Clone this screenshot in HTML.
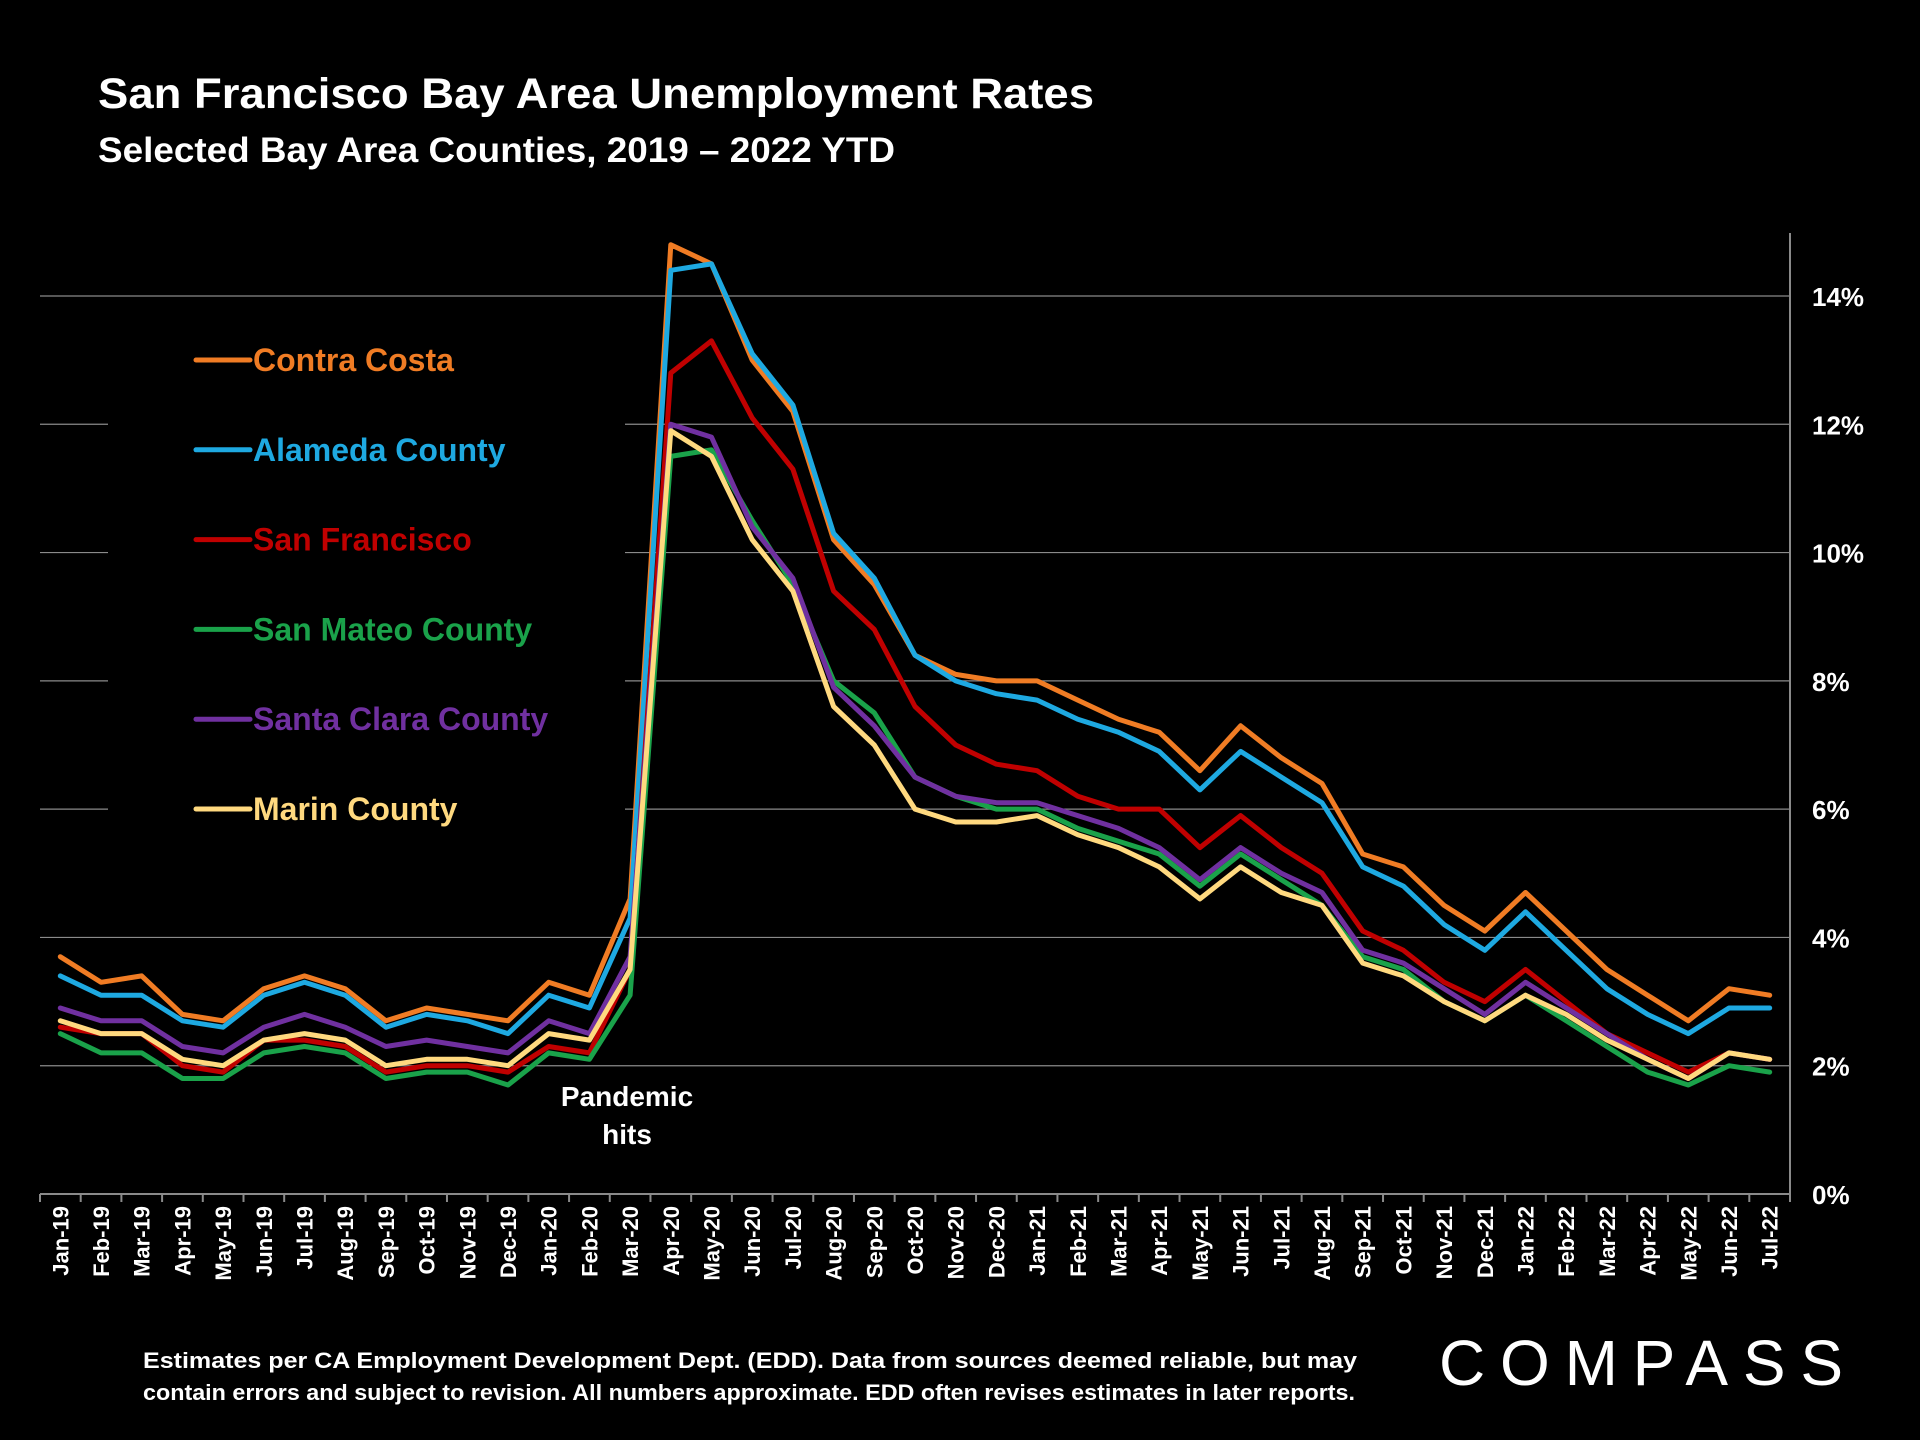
<!DOCTYPE html>
<html><head><meta charset="utf-8"><style>
html,body{margin:0;padding:0;background:#000;}
svg{display:block;font-family:"Liberation Sans",sans-serif;}
</style></head><body>
<svg id="chart" width="1920" height="1440" viewBox="0 0 1920 1440" xmlns="http://www.w3.org/2000/svg">
<rect width="1920" height="1440" fill="#000"/>
<text x="98" y="108" fill="#fff" font-size="43" font-weight="bold" textLength="996" lengthAdjust="spacingAndGlyphs">San Francisco Bay Area Unemployment Rates</text>
<text x="98" y="162" fill="#fff" font-size="35" font-weight="bold" textLength="797" lengthAdjust="spacingAndGlyphs">Selected Bay Area Counties, 2019 – 2022 YTD</text>
<g id="grid"></g>
<rect x="108" y="320" width="517" height="530" fill="#000"/>
<g id="axes"></g>
<g id="series"></g>
<g id="legend"></g>
<text x="627" y="1106" fill="#fff" font-size="28" font-weight="bold" text-anchor="middle"><tspan x="627">Pandemic</tspan><tspan x="627" dy="38">hits</tspan></text>
<text x="143" y="1368" fill="#fff" font-size="22" font-weight="bold" textLength="1214" lengthAdjust="spacingAndGlyphs">Estimates per CA Employment Development Dept. (EDD). Data from sources deemed reliable, but may</text>
<text x="143" y="1400" fill="#fff" font-size="22" font-weight="bold" textLength="1212" lengthAdjust="spacingAndGlyphs">contain errors and subject to revision. All numbers approximate.  EDD often revises estimates in later reports.</text>
<text x="1439" y="1385" fill="#fff" font-size="64" textLength="404" lengthAdjust="spacing">COMPASS</text>
</svg>
<script>
const months=["Jan-19","Feb-19","Mar-19","Apr-19","May-19","Jun-19","Jul-19","Aug-19","Sep-19","Oct-19","Nov-19","Dec-19","Jan-20","Feb-20","Mar-20","Apr-20","May-20","Jun-20","Jul-20","Aug-20","Sep-20","Oct-20","Nov-20","Dec-20","Jan-21","Feb-21","Mar-21","Apr-21","May-21","Jun-21","Jul-21","Aug-21","Sep-21","Oct-21","Nov-21","Dec-21","Jan-22","Feb-22","Mar-22","Apr-22","May-22","Jun-22","Jul-22"];
const yTicks=[0,2,4,6,8,10,12,14];
const yTickLabels=["0%","2%","4%","6%","8%","10%","12%","14%"];
const seriesNames=["Contra Costa","Alameda County","San Francisco","San Mateo County","Santa Clara County","Marin County"];
const seriesColors=["#f07c24","#1ea9e1","#c00000","#1aa24a","#7030a0","#ffd97f"];
const contraCosta=[3.7,3.3,3.4,2.8,2.7,3.2,3.4,3.2,2.7,2.9,2.8,2.7,3.3,3.1,4.6,14.8,14.5,13.0,12.2,10.2,9.5,8.4,8.1,8.0,8.0,7.7,7.4,7.2,6.6,7.3,6.8,6.4,5.3,5.1,4.5,4.1,4.7,4.1,3.5,3.1,2.7,3.2,3.1];
const alameda=[3.4,3.1,3.1,2.7,2.6,3.1,3.3,3.1,2.6,2.8,2.7,2.5,3.1,2.9,4.3,14.4,14.5,13.1,12.3,10.3,9.6,8.4,8.0,7.8,7.7,7.4,7.2,6.9,6.3,6.9,6.5,6.1,5.1,4.8,4.2,3.8,4.4,3.8,3.2,2.8,2.5,2.9,2.9];
const sanFrancisco=[2.6,2.5,2.5,2.0,1.9,2.4,2.4,2.3,1.9,2.0,2.0,1.9,2.3,2.2,3.5,12.8,13.3,12.1,11.3,9.4,8.8,7.6,7.0,6.7,6.6,6.2,6.0,6.0,5.4,5.9,5.4,5.0,4.1,3.8,3.3,3.0,3.5,3.0,2.5,2.2,1.9,2.2,2.1];
const sanMateo=[2.5,2.2,2.2,1.8,1.8,2.2,2.3,2.2,1.8,1.9,1.9,1.7,2.2,2.1,3.1,11.5,11.6,10.5,9.5,8.0,7.5,6.5,6.2,6.0,6.0,5.7,5.5,5.3,4.8,5.3,4.9,4.5,3.7,3.5,3.0,2.7,3.1,2.7,2.3,1.9,1.7,2.0,1.9];
const santaClara=[2.9,2.7,2.7,2.3,2.2,2.6,2.8,2.6,2.3,2.4,2.3,2.2,2.7,2.5,3.7,12.0,11.8,10.4,9.6,7.9,7.3,6.5,6.2,6.1,6.1,5.9,5.7,5.4,4.9,5.4,5.0,4.7,3.8,3.6,3.2,2.8,3.3,2.9,2.5,2.1,1.8,2.2,2.1];
const marin=[2.7,2.5,2.5,2.1,2.0,2.4,2.5,2.4,2.0,2.1,2.1,2.0,2.5,2.4,3.5,11.9,11.5,10.2,9.4,7.6,7.0,6.0,5.8,5.8,5.9,5.6,5.4,5.1,4.6,5.1,4.7,4.5,3.6,3.4,3.0,2.7,3.1,2.8,2.4,2.1,1.8,2.2,2.1];
const allSeries=[contraCosta,alameda,sanFrancisco,sanMateo,santaClara,marin];
const NS="http://www.w3.org/2000/svg";
const L=40,R=1790,T=233,B=1194,yMax=14,y14=296;
const step=(R-L)/months.length;
function xPos(i){return L+step*(i+0.5);}
function yPos(v){return B-(B-y14)*v/yMax;}
function mk(tag,attrs,parent){const e=document.createElementNS(NS,tag);for(const k in attrs)e.setAttribute(k,attrs[k]);parent.appendChild(e);return e;}
const grid=document.getElementById('grid'),axes=document.getElementById('axes'),ser=document.getElementById('series'),leg=document.getElementById('legend');
yTicks.forEach((t,i)=>{
  if(t>0){const g=mk('line',{x1:L,x2:R,y1:yPos(t),y2:yPos(t),stroke:'#8a8a8a','stroke-width':1.2},grid);
  
  }
  const tx=mk('text',{x:1812,y:yPos(t)+10,fill:'#fff','font-size':26,'font-weight':'bold'},axes);
  tx.textContent=yTickLabels[i];
  
  
});
const xa=mk('line',{x1:L,x2:R,y1:B,y2:B,stroke:'#8a8a8a','stroke-width':2},axes);


const ya=mk('line',{x1:R,x2:R,y1:T,y2:B+8,stroke:'#8a8a8a','stroke-width':2},axes);


for(let i=0;i<=months.length;i++){
  const tk=mk('line',{x1:L+step*i,x2:L+step*i,y1:B,y2:B+8,stroke:'#8a8a8a','stroke-width':2},axes);
  
  
}
months.forEach((m,i)=>{
  const x=xPos(i)+8,y=B+12;
  const tx=mk('text',{x:x,y:y,fill:'#fff','font-size':22,'font-weight':'bold','text-anchor':'end',transform:`rotate(-90 ${x} ${y})`},axes);
  tx.textContent=m;
  
  
});
allSeries.forEach((s,k)=>{
  const d=s.map((v,i)=>(i?'L':'M')+xPos(i).toFixed(1)+' '+yPos(v).toFixed(1)).join(' ');
  const p=mk('path',{d:d,fill:'none',stroke:seriesColors[k],'stroke-width':5,'stroke-linejoin':'round','stroke-linecap':'round'},ser);
  
  
});
// draw in reverse-ish order so top series on top
seriesNames.forEach((n,k)=>{
  const cy=360+k*89.8;
  const ln=mk('line',{x1:196,x2:250,y1:cy,y2:cy,stroke:seriesColors[k],'stroke-width':5,'stroke-linecap':'round'},leg);
  
  
  const tx=mk('text',{x:253,y:cy+11,fill:seriesColors[k],'font-size':32,'font-weight':'bold'},leg);
  tx.textContent=n;
  
  
});
</script>
</body></html>
